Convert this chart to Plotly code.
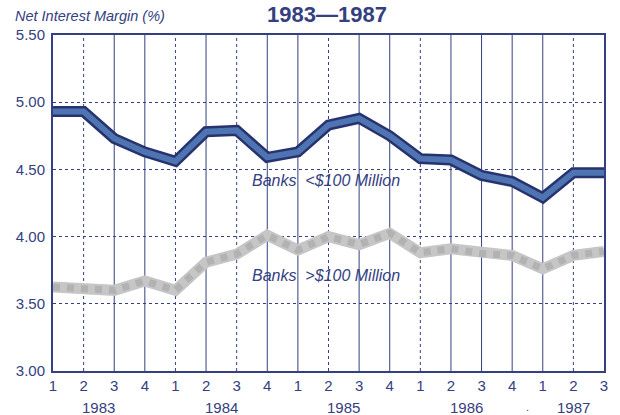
import plotly.graph_objects as go

quarters = ["1", "2", "3", "4", "1", "2", "3", "4", "1", "2", "3", "4",
            "1", "2", "3", "4", "1", "2", "3"]
years = ["1983", "1984", "1985", "1986", "1987"]
year_pos = [1.5, 5.5, 9.5, 13.5, 17]
small_banks = [4.93, 4.93, 4.73, 4.63, 4.56, 4.78, 4.79, 4.59, 4.63, 4.83,
               4.88, 4.75, 4.58, 4.57, 4.455, 4.41, 4.29, 4.475, 4.475]
large_banks = [3.625, 3.61, 3.60, 3.67, 3.60, 3.81, 3.87, 4.01, 3.90, 4.00,
               3.94, 4.025, 3.88, 3.91, 3.875, 3.86, 3.76, 3.86, 3.89]
# style of interior vertical grid lines (index 1..17)
vgrid_dotted = [True, False, False, True, False, True, False, False, True,
                False, False, True, False, False, False, False, True]

NAVY = "#34407f"
x = list(range(len(quarters)))

fig = go.Figure()
fig.add_trace(go.Scatter(x=x, y=large_banks, mode="lines",
                         line=dict(color="#c6c6c6", width=11), hoverinfo="skip"))
fig.add_trace(go.Scatter(x=x, y=large_banks, mode="lines",
                         line=dict(color="#8f8f8f", width=7, dash="dot"), opacity=0.35,
                         hoverinfo="skip"))
fig.add_trace(go.Scatter(x=x, y=small_banks, mode="lines",
                         line=dict(color="#27336f", width=11), hoverinfo="skip"))
fig.add_trace(go.Scatter(x=x, y=small_banks, mode="lines",
                         line=dict(color="#4f74b2", width=6), hoverinfo="skip"))

shapes = []
for i, dotted in enumerate(vgrid_dotted, start=1):
    shapes.append(dict(type="line", xref="x", yref="paper", x0=i, x1=i, y0=0, y1=1,
                       line=dict(color=NAVY, width=1, dash="dot" if dotted else "solid"),
                       layer="below"))

annotations = []
annotations.append(dict(text="<b>1983\u20141987</b>", xref="paper", yref="paper",
                        x=0.497, y=1.0, yshift=35, xanchor="center", yanchor="top",
                        showarrow=False, font=dict(size=22, color=NAVY)))
annotations.append(dict(text="<i>Net Interest Margin (%)</i>", xref="paper", yref="paper",
                        x=-0.073, y=1.0, yshift=19, xanchor="left", yanchor="middle",
                        showarrow=False, font=dict(size=14.5, color=NAVY)))
for yr, p in zip(years, year_pos):
    annotations.append(dict(text=yr, xref="x", yref="paper", x=p, y=0, yshift=-36,
                            xanchor="center", yanchor="middle", showarrow=False,
                            font=dict(size=15, color=NAVY)))
annotations.append(dict(text=".", xref="x", yref="paper", x=15.5, y=0, yshift=-36,
                        xanchor="center", yanchor="middle", showarrow=False,
                        font=dict(size=11, color=NAVY)))
annotations.append(dict(text="<i>Banks\u00a0\u00a0<$100 Million</i>", xref="x", yref="y",
                        x=6.45, y=4.415, xanchor="left", yanchor="middle", showarrow=False,
                        font=dict(size=16, color=NAVY)))
annotations.append(dict(text="<i>Banks\u00a0\u00a0>$100 Million</i>", xref="x", yref="y",
                        x=6.45, y=3.71, xanchor="left", yanchor="middle", showarrow=False,
                        font=dict(size=16, color=NAVY)))

fig.update_layout(
    width=620, height=415,
    margin=dict(l=53, r=14, t=35, b=44),
    paper_bgcolor="white", plot_bgcolor="white",
    showlegend=False,
    font=dict(family="Liberation Sans, Arial, sans-serif", color=NAVY),
    shapes=shapes, annotations=annotations,
    xaxis=dict(range=[0, 18], tickmode="array", tickvals=x, ticktext=quarters,
               showgrid=False, zeroline=False, showline=True, linecolor=NAVY,
               linewidth=2, mirror=True, ticks="", tickfont=dict(size=15, color=NAVY)),
    yaxis=dict(range=[3.0, 5.5], tickmode="array",
               tickvals=[3.0, 3.5, 4.0, 4.5, 5.0, 5.5],
               ticktext=["3.00", "3.50", "4.00", "4.50", "5.00", "5.50"],
               showgrid=True, gridcolor=NAVY, gridwidth=1, griddash="dot",
               zeroline=False, showline=True, linecolor=NAVY, linewidth=2, mirror=True,
               ticks="", ticklabelstandoff=3, tickfont=dict(size=15, color=NAVY)),
)

fig.write_html("out.html", config={"displayModeBar": False},
               post_script="document.body.style.margin='0';document.body.style.padding='0';")
